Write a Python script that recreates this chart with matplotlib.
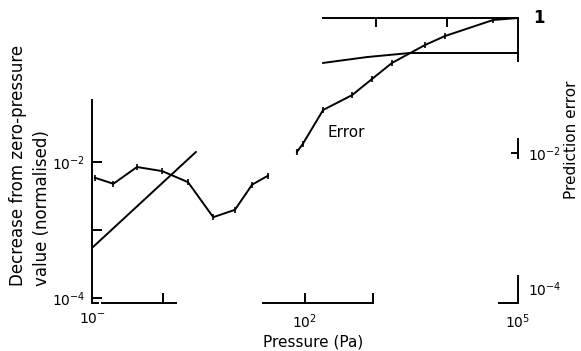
import numpy as np
import matplotlib
matplotlib.use("Agg")
import matplotlib.pyplot as plt

plt.rcParams['font.family'] = ['DejaVu Sans']

# prediction error curve (right axis), two visible runs
err_p1 = [0.11, 0.2, 0.43, 0.97, 2.25, 5.1, 10.3, 18, 30]
err_v1 = [4.3e-3, 3.5e-3, 6.2e-3, 5.4e-3, 3.7e-3, 1.12e-3, 1.44e-3, 3.4e-3, 4.6e-3]
err_p2 = [77, 93, 180, 460, 880, 1680, 4900, 9350, 44500, 1e5]
err_v2 = [0.0104, 0.0136, 0.0434, 0.072, 0.125, 0.216, 0.398, 0.54, 0.934, 1.0]

# straight line of slope 1 (left axis)
lin_p = [0.103, 2.9]
lin_v = [5.6e-4, 1.4e-2]

# upper curve merging into the reference level
up_p = [180, 750, 3000, 1e5]
up_v = [0.216, 0.264, 0.303, 0.303]

xlabels = ['10$^{-}$', '10$^{2}$', '10$^{5}$']
xlab_pos = [0.1, 100, 1e5]

W, H = 581, 351
fig = plt.figure(figsize=(W / 100, H / 100), dpi=100)
L, R, T, B = 92, 518, 18, 303
ax = fig.add_axes([L / W, (H - B) / H, (R - L) / W, (B - T) / H])
ax2 = ax.twinx()

for a in (ax, ax2):
    a.set_xscale('log')
    a.set_yscale('log')
    a.patch.set_visible(False)
    for s in a.spines.values():
        s.set_visible(False)
    a.minorticks_off()

ax.set_xlim(0.1, 1e5)
ax.set_ylim(10 ** -4.074, 10 ** 0.118)
ax2.set_ylim(10 ** -4.222, 1)

lw = 1.4
k = 'black'

# left axis
ax.spines['left'].set_visible(True)
ax.spines['left'].set_bounds(10 ** -4.074, 10 ** -1.09)
ax.spines['left'].set_linewidth(lw)
ax.set_yticks([1e-4, 1e-3, 1e-2])
ax.set_yticklabels(['10$^{-4}$', '', '10$^{-2}$'])
ax.tick_params(axis='y', direction='in', length=7, width=lw, labelsize=10, pad=5)
ax.tick_params(axis='x', bottom=False, labelbottom=True, labelsize=10, pad=3)
ax.set_xticks(xlab_pos)
ax.set_xticklabels(xlabels)

# bottom axis pieces
xt = ax.get_xaxis_transform()
for a0, a1 in [(0.1, 0.125), (0.135, 1.6), (2.5e1, 9.2e2), (5.3e4, 1e5)]:
    ax.plot([a0, a1], [0, 0], color=k, lw=lw, transform=xt, clip_on=False, solid_capstyle='butt')
for t in [1, 100, 900]:
    ax.plot([t, t], [0, 0.03], color=k, lw=lw, transform=xt, clip_on=False)

# top reference line with ticks
ax.plot([180, 1e5], [1, 1], color=k, lw=lw, transform=xt, clip_on=False)
for t in [1000, 10000]:
    ax.plot([t, t], [1, 0.972], color=k, lw=lw, transform=xt)

# right axis pieces
yt = ax2.get_yaxis_transform()
for b0, b1 in [(1.0, 0.23), (0.016, 0.0085), (1.5e-4, 10 ** -4.222)]:
    ax2.plot([1, 1], [b0, b1], color=k, lw=lw, transform=yt, clip_on=False)
ax2.plot([0.985, 1], [1e-2, 1e-2], color=k, lw=lw, transform=yt, clip_on=False)
ax2.set_yticks([1e-4, 1e-2, 1])
ax2.set_yticklabels(['10$^{-4}$', '10$^{-2}$', ''])
ax2.tick_params(axis='y', right=False, labelright=True, labelsize=10, pad=4)
ax2.text(1.035, 1.0, '1', transform=yt, fontsize=12, fontweight='bold', va='center', ha='left')

# curves
ax.plot(lin_p, lin_v, color=k, lw=lw)
ax2.plot(up_p, up_v, color=k, lw=lw)
ax2.plot(err_p1, err_v1, color=k, lw=lw, marker='|', ms=5, mew=1.2)
ax2.plot(err_p2, err_v2, color=k, lw=lw, marker='|', ms=5, mew=1.2)
ax2.text(205, 0.02, 'Error', fontsize=11, va='center', ha='left')

# labels
fig.text(313 / W, 1 - 342 / H, 'Pressure (Pa)', ha='center', va='center', fontsize=11)
fig.text(18 / W, 1 - 286 / H, 'Decrease from zero-pressure', rotation=90,
         ha='center', va='bottom', fontsize=12)
fig.text(42 / W, 1 - 286 / H, 'value (normalised)', rotation=90,
         ha='center', va='bottom', fontsize=12)
fig.text(572 / W, 1 - 140 / H, 'Prediction error', rotation=90,
         ha='center', va='center', fontsize=11)

fig.savefig('out.png', dpi=100)
